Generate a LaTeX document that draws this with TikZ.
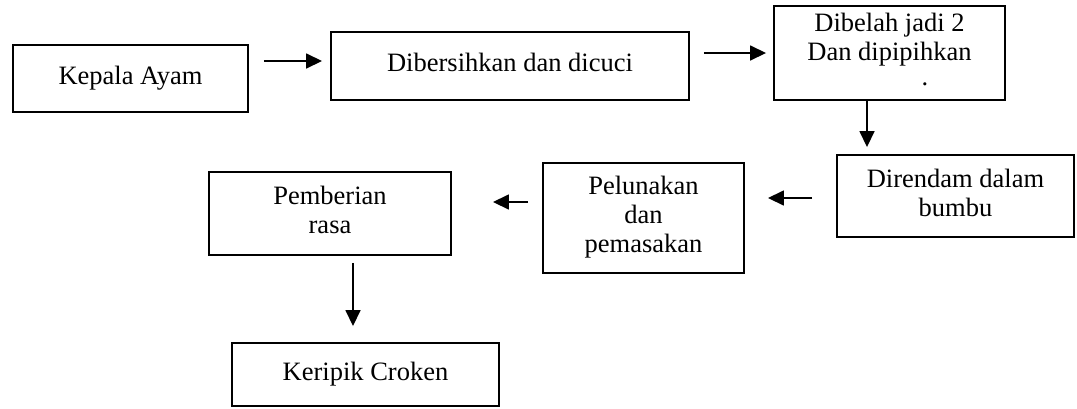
\documentclass[tikz,border=0pt]{standalone}
\usepackage{fontspec}
\setmainfont{Liberation Serif}
\usetikzlibrary{arrows.meta,calc}
\newcommand{\flowtxt}[2]{\raisebox{#1}{\begin{tabular}{@{}c@{}}#2\end{tabular}}}
\begin{document}
\begin{tikzpicture}[x=1pt,y=-1pt,
  stepbox/.style={draw=black,line width=1.9pt,rectangle,inner sep=0pt,
    font=\fontsize{26.5}{29}\selectfont},
  arr/.style={line width=1.6pt,-{Triangle[length=16pt,width=15pt]}}]
\useasboundingbox[fill=white] (0,0) rectangle (1077,408);
\node[stepbox,minimum width=235pt,minimum height=67pt] (b1) at (130.5,78.5) {\flowtxt{2pt}{Kepala Ayam}};
\node[stepbox,minimum width=358pt,minimum height=68pt] (b2) at (510,66) {\flowtxt{0pt}{Dibersihkan dan dicuci}};
\node[stepbox,minimum width=231pt,minimum height=94pt] (b3) at (889.5,53) {\flowtxt{-3pt}{Dibelah jadi 2\\Dan dipipihkan\\[-4pt]\hspace*{71pt}.}};
\node[stepbox,minimum width=237pt,minimum height=82pt] (b4) at (955.5,196) {\flowtxt{-9pt}{Direndam dalam\\bumbu}};
\node[stepbox,minimum width=201pt,minimum height=110pt] (b5) at (643.5,218) {\flowtxt{-6pt}{Pelunakan\\dan\\pemasakan}};
\node[stepbox,minimum width=242pt,minimum height=83pt] (b6) at (330,213.5) {\flowtxt{-4pt}{Pemberian\\rasa}};
\node[stepbox,minimum width=267pt,minimum height=63pt] (b7) at (365.5,374.5) {\flowtxt{0pt}{Keripik Croken}};
\draw[arr] ($(b1.east)+(15,-17.5)$) -- ($(b2.west)+(-8,-5)$);
\draw[arr] ($(b2.east)+(14,-13)$) -- ($(b3.west)+(-7,0)$);
\draw[arr] ($(b3.south)+(-22.5,0)$) -- ($(b4.north)+(-88.5,-7)$);
\draw[arr] ($(b4.west)+(-24,2)$) -- ($(b5.east)+(23,-20)$);
\draw[arr] ($(b5.west)+(-14,-16)$) -- ($(b6.east)+(41,-11.5)$);
\draw[arr] ($(b6.south)+(23,7)$) -- ($(b7.north)+(-12.5,-16)$);
\end{tikzpicture}
\end{document}
